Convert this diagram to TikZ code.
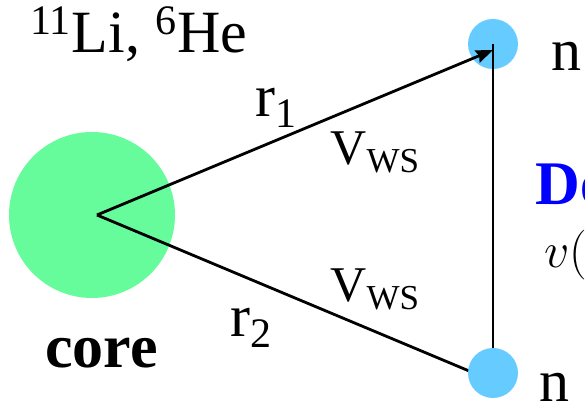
\documentclass[tikz,border=0pt]{standalone}
\usepackage{fontspec}
\setmainfont{Liberation Serif}
\usepackage{xcolor}
\usetikzlibrary{arrows.meta,positioning}
\definecolor{hgreen}{HTML}{66FC9C}
\definecolor{hblue}{HTML}{66CCFF}
\definecolor{hlink}{HTML}{0000FF}
\tikzset{
  >={Stealth[length=8.5pt,width=6.5pt,inset=1pt]},
  hcore/.style={circle, fill=hgreen, minimum size=83pt, inner sep=0pt},
  hneut/.style={circle, fill=hblue, minimum size=25pt, inner sep=0pt},
  hjac/.style={black, line width=1.4pt},
  hbond/.style={black, line width=1pt},
  hlbl/.style={anchor=base west, inner sep=0pt, font=\fontsize{30}{36}\selectfont},
  hpot/.style={anchor=base west, inner sep=0pt, font=\fontsize{25}{30}\selectfont},
}
\begin{document}
\begin{tikzpicture}[x=0.5pt,y=-0.5pt]
  \useasboundingbox (0,0) rectangle (585,405);
  \clip (0,0) rectangle (585,405);

  % --- core and halo neutrons ---
  \node[hcore] (core) at (92,215) {};
  \node[hneut] (n1) at (493,44) {};
  \coordinate (c) at (97,215);
  \coordinate (t1) at (493,50);
  \coordinate (t2) at (493,381);
  \coordinate (m2) at (493,373);

  \draw[hjac, ->] (c) -- (t1);
  \draw[hjac] (c) -- (t2);
  \draw[hbond] (n1.center) -- (m2);
  \node[hneut] (n2) at (m2) {};

  % labels
  \node[hlbl] (nuc) at (30,53) {\textsuperscript{11}Li, \textsuperscript{6}He};
  \node[hlbl] (r1) at (255,117) {r\textsubscript{1}};
  \node[hlbl] (r2) at (230,337) {r\textsubscript{2}};
  \node[hpot] (v1) at (330,165) {V\textsubscript{WS}};
  \node[hpot] (v2) at (330,302) {V\textsubscript{WS}};
  \node[hlbl, font=\fontsize{31}{36}\selectfont\bfseries] (lcore) at (45,368) {core};
  \node[hlbl] (ln1) at (551,71) {n};
  \node[hlbl] (ln2) at (539,402) {n};

  % --- interaction (cut at the right edge) ---
  \node[hlbl, font=\fontsize{31}{36}\selectfont\bfseries, text=hlink] (dd) at (535,205) {De};
  \node[hlbl, font=\fontsize{33}{38}\selectfont] (vv) at (544,268) {$v($};
\end{tikzpicture}
\end{document}
